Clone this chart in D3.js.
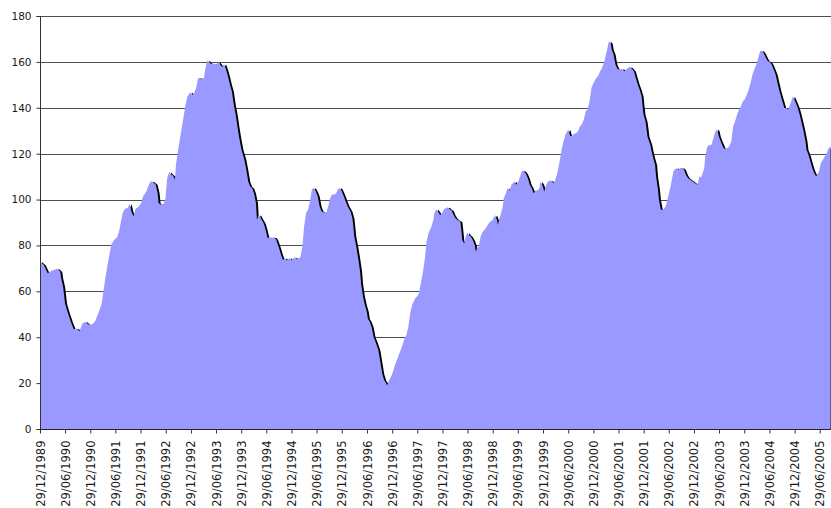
<!DOCTYPE html>
<html>
<head>
<meta charset="utf-8">
<script src="https://cdn.jsdelivr.net/npm/d3@7"></script>
<style>
  body { margin: 0; background: #fff; }
  text { font-family: "DejaVu Sans", Verdana, sans-serif; fill: #1a1a1a; }
</style>
</head>
<body>
<div class="chart"></div>
<script>
const width = 831
const height = 508

// weekly series (week number counted from the first date)
const startDate = "1989-12-29"
const endDate = "2005-09-19"

const weeks = [
  0, 1, 4, 8, 12, 18, 21, 22, 24, 26, 29, 32, 35, 38, 41, 44, 47, 50, 53, 57, 59, 61, 64, 66, 68, 70, 72, 74, 77, 80,
  82, 84, 86, 88, 91, 93, 95, 97, 99, 102, 105, 107, 110, 113, 115, 117, 120, 122, 123, 125, 128, 130, 132, 134, 136,
  138, 140, 141, 143, 145, 147, 149, 151, 153, 156, 158, 160, 162, 164, 166, 168, 170, 172, 174, 176, 178, 180, 183,
  185, 187, 189, 191, 193, 195, 197, 199, 201, 203, 205, 207, 209, 212, 214, 216, 218, 220, 222, 224, 225, 227, 229,
  232, 234, 236, 238, 240, 243, 245, 248, 250, 252, 254, 256, 259, 261, 264, 267, 270, 272, 274, 276, 278, 280, 282,
  284, 286, 288, 290, 292, 295, 297, 299, 301, 303, 305, 307, 309, 311, 313, 315, 317, 319, 322, 324, 325, 326, 328,
  330, 332, 333, 335, 337, 339, 340, 342, 344, 346, 348, 351, 353, 355, 357, 359, 360, 362, 364, 366, 368, 370, 372,
  374, 376, 378, 380, 382, 384, 386, 389, 391, 393, 395, 397, 399, 401, 403, 406, 408, 409, 411, 413, 415, 417, 419,
  421, 423, 425, 427, 429, 431, 433, 436, 437, 438, 440, 441, 443, 445, 447, 449, 451, 452, 453, 455, 457, 459, 461,
  463, 465, 467, 469, 472, 474, 475, 476, 478, 480, 481, 483, 485, 487, 489, 492, 494, 496, 498, 500, 502, 504, 506,
  508, 510, 512, 514, 516, 518, 519, 521, 523, 525, 527, 529, 531, 533, 535, 537, 539, 541, 543, 545, 548, 550, 552,
  554, 556, 558, 560, 562, 564, 566, 568, 570, 572, 575, 577, 579, 581, 583, 585, 587, 589, 590, 592, 593, 595, 596,
  597, 599, 601, 604, 606, 608, 610, 612, 614, 616, 618, 620, 622, 624, 625, 626, 628, 629, 630, 633, 634, 636, 638,
  639, 641, 642, 644, 646, 648, 650, 652, 654, 656, 657, 660, 662, 664, 666, 668, 670, 672, 674, 677, 679, 682, 684,
  686, 689, 690, 692, 694, 696, 698, 700, 702, 703, 704, 706, 709, 711, 713, 715, 717, 719, 721, 723, 725, 727, 729,
  731, 733, 735, 737, 739, 741, 743, 745, 747, 749, 751, 753, 755, 757, 759, 761, 763, 765, 767, 769, 771, 772, 774,
  776, 778, 781, 782, 784, 786, 788, 790, 792, 794, 795, 797, 799, 801, 803, 805, 808, 810, 812, 814, 816, 818, 820
]

const values = [
  73, 72.6, 71.5, 67.9, 69.0, 69.8, 68.6, 65.7, 62, 54.7, 50.4, 46.7, 43.5, 43.8, 42.6, 46, 46.7, 45.7, 45.3, 46.7,
  48.9, 51, 54.7, 60.6, 66.4, 71.5, 75.9, 80.3, 82.5, 83.6,
  86.1, 90.5, 94.5, 95.9, 96.4, 98.2, 94.5, 92.7, 95.9, 96.8, 98.5, 101.5, 103.2, 106.6, 108, 107.7, 106.6, 102.9, 98.5,
  97.8, 98, 100, 109.5, 112, 111,
  110.4, 108.7, 115.2, 121, 126.1, 131.2, 136.3, 141.4, 145, 146.8, 145.7, 146.5, 148.7, 153, 153, 152.3, 153, 158.1,
  160.7, 159.6, 159, 159.3, 159, 159.9, 158.8, 157.8, 159.1, 156.7, 153.7, 150.1, 147.2, 141.4, 137, 131.2, 126.1,
  121.7, 117.4, 113, 107.9, 105.7, 105, 102.8, 98.5, 91.2, 93.4, 91.9, 89.7, 86.8, 83.2, 83.6, 83.2, 83.6, 82.5,
  78.8, 75.9, 73.7, 74.5, 73.5, 74.5, 73.7, 74.9, 74, 74.9,
  79, 88.3, 94.2, 95.6, 99.3, 104.4, 105.1, 103.6, 101.5, 97.1, 94.9, 94.2, 94.5, 97.1, 100.7, 102.2, 102.2, 102.6,
  104.4, 105.1, 103.6, 101.5, 99.3, 97.1, 94.9, 92, 88.3, 83.9, 79.6, 74.5, 68.6, 63.5, 57.7, 54, 51.1, 48.2, 46.7,
  44.5, 40.1, 38, 34.3, 29.2, 24.1, 21.2, 20, 19, 21.2, 22.6, 24.8, 27.7, 29.9, 32.1, 34.3, 36.5, 39.4, 40.9, 44.5,
  50.4, 54, 56.9, 57.7, 59.1, 63.5, 67.9, 73.7, 81.8, 85.4,
  88.2, 91.1, 94, 95.8, 94.7, 93.3, 94, 95.8, 96.2, 96.6, 95.8, 95.2, 93.3, 91.8, 91.1, 90.4, 86.7, 82.3, 80.9, 83.1,
  85.5, 84.5, 83.8, 82.3, 80.1, 77.2, 78.7, 79.4, 83.8, 86, 86.7, 87.9, 89.3, 90.4, 90.8, 93.3, 91.1, 88.9, 91.1, 93.7,
  96.9, 100.6, 102.5, 105, 103.9, 106.4, 107.9, 106.4, 107.9, 110.1, 112.7, 112.3, 111.2, 109.3, 106.4, 105, 102.8,
  103.9, 103.9, 105, 107.9, 106.4, 103.5, 106.4, 107.9, 108.3, 107.9, 107.2, 109.3, 112.3,
  116.7, 121.7, 125.4, 128.3, 130.5, 127.6, 127.9, 128.7, 129, 129.7, 131.9, 132.7, 134.8, 138.5, 139.2, 142.8, 148.7,
  151.6, 153, 154, 155.9, 157.4, 159.6, 163.2, 166.8, 169, 168, 165.4, 163.2, 160.7, 158.8, 156.9, 156.7, 156.9, 155.9,
  156.7, 157.4, 157.8, 156.9, 155.9, 153, 150.1, 147.9, 145, 140.7, 137, 134.1, 131.2, 127.6, 123.9, 121.7, 118.1,
  115.2, 110.1, 104.3, 99.9, 95.6, 95.6, 96.3, 98.5, 102.1, 105.7, 110.1, 112.3, 113.7, 113, 113.7, 113.7, 113, 110.8,
  109.4, 108.7,
  107.9, 107.2, 106.5, 110.1, 109.8, 113.7, 118.8, 122.9, 123.9, 123.5, 126.1, 129, 130.8, 129.7, 127.6, 125.4, 122.5,
  122, 122.5, 123.2, 125.4, 131.9, 134.1, 137, 139.2, 140.7, 142.8, 143.6, 145.7, 147.9, 150.8, 154.5, 156.9, 158.8,
  161.7, 164.7, 164.7, 163.6, 161.7, 160.3, 159.9, 158.8, 156.7, 154.5, 150.8, 147.2, 144.3, 141.4, 139.9, 139.9,
  139.2, 141.4, 145, 143.9, 142.1, 139.9, 137, 133.4, 129.7, 125.4, 121.7, 119.6, 116.7, 113.7, 111.6, 110.1, 112.3,
  115.9, 117.4, 118.8, 120.3, 122.5, 123.2
]

const yTicks = [0, 20, 40, 60, 80, 100, 120, 140, 160, 180]

const xTickLabels = [
  "29/12/1989", "29/06/1990", "29/12/1990", "29/06/1991", "29/12/1991", "29/06/1992", "29/12/1992", "29/06/1993",
  "29/12/1993", "29/06/1994", "29/12/1994", "29/06/1995", "29/12/1995", "29/06/1996", "29/12/1996", "29/06/1997",
  "29/12/1997", "29/06/1998", "29/12/1998", "29/06/1999", "29/12/1999", "29/06/2000", "29/12/2000", "29/06/2001",
  "29/12/2001", "29/06/2002", "29/12/2002", "29/06/2003", "29/12/2003", "29/06/2004", "29/12/2004", "29/06/2005"
]

const parseIso = d3.timeParse("%Y-%m-%d")
const parseLabel = d3.timeParse("%d/%m/%Y")
const start = parseIso(startDate)

const data = weeks.map((w, i) => ({ date: d3.timeDay.offset(start, 7 * w), value: values[i] }))

const svg = d3.select('.chart')
  .append('svg')
  .attr('width', width)
  .attr('height', height)

const plotLeft = 40, plotRight = 831, plotTop = 16, plotBottom = 429

const x = d3.scaleTime()
  .domain([start, parseIso(endDate)])
  .range([plotLeft, plotRight])

const y = d3.scaleLinear()
  .domain([0, 180])
  .range([plotBottom, plotTop])

svg.append("clipPath")
  .attr("id", "plot-clip")
  .append("rect")
  .attr("x", plotLeft)
  .attr("y", plotTop - 2)
  .attr("width", plotRight - plotLeft + 2)
  .attr("height", plotBottom - plotTop + 2)

// gridlines
svg.append("g")
  .selectAll("line")
  .data(yTicks.filter(d => d > 0))
  .join("line")
    .attr("x1", plotLeft)
    .attr("x2", width)
    .attr("y1", d => Math.round(y(d)) + 0.5)
    .attr("y2", d => Math.round(y(d)) + 0.5)
    .style("stroke", "#4d4d4d")
    .style("stroke-width", 1)

const area = d3.area()
  .x(d => x(d.date))
  .y0(y(0))
  .y1(d => y(d.value))

const plot = svg.append("g").attr("clip-path", "url(#plot-clip)")

// dark edge on falling stretches: black copy nudged right, under the fill
plot.append("path")
  .datum(data)
  .attr("d", area)
  .attr("transform", "translate(2,0.5)")
  .style("fill", "#000")

plot.append("path")
  .datum(data)
  .attr("d", area)
  .style("fill", "#9999ff")

// y axis
const yAxis = svg.append("g")
  .attr("transform", `translate(${plotLeft + 0.5},0)`)
  .call(d3.axisLeft(y).tickValues(yTicks).tickSize(4).tickPadding(5))

yAxis.select(".domain").attr("stroke", "#333").attr("d", `M-4,${plotTop + 0.5}H0V${plotBottom + 0.5}H-4`)
yAxis.selectAll(".tick line").attr("stroke", "#333")
yAxis.selectAll("text").style("font-size", "10.5px").attr("fill", "#1a1a1a")

// x axis
const xTickDates = xTickLabels.map(parseLabel)
const xAxis = svg.append("g")
  .attr("transform", `translate(0,${plotBottom + 0.5})`)
  .call(d3.axisBottom(x).tickValues(xTickDates).tickFormat((d, i) => xTickLabels[i]).tickSize(4).tickSizeOuter(0))

xAxis.select(".domain").attr("stroke", "#222").attr("d", `M${plotLeft},0H${width}`)
xAxis.selectAll(".tick line").attr("stroke", "#333")
xAxis.selectAll("text")
  .style("font-size", "11.5px")
  .attr("fill", "#1a1a1a")
  .attr("text-anchor", "end")
  .attr("transform", "rotate(-90)")
  .attr("x", -11)
  .attr("y", 0)
  .attr("dy", "0.35em")
</script>
</body>
</html>
